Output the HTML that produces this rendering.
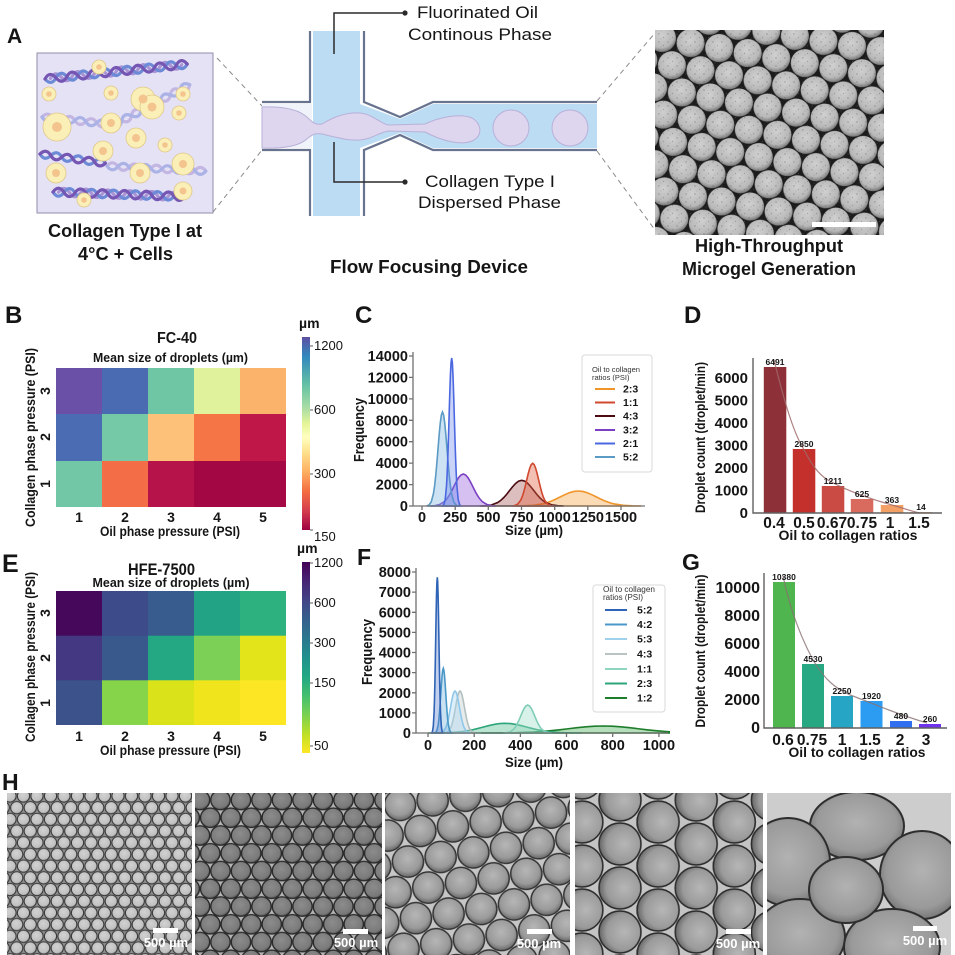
<!DOCTYPE html>
<html><head><meta charset="utf-8"><style>
html,body{margin:0;padding:0;background:#fff;}
svg{display:block;}
text{font-family:"Liberation Sans",Arial,sans-serif;fill:#151515;}
.b{font-weight:bold;}
</style></head><body>
<svg width="955" height="955" viewBox="0 0 955 955" xmlns="http://www.w3.org/2000/svg">
<defs>
<linearGradient id="spec" x1="0" y1="0" x2="0" y2="1">
<stop offset="0" stop-color="#5e4fa2"/><stop offset="0.1" stop-color="#3288bd"/><stop offset="0.25" stop-color="#66c2a5"/><stop offset="0.37" stop-color="#abdda4"/><stop offset="0.45" stop-color="#e6f598"/><stop offset="0.52" stop-color="#ffffbf"/><stop offset="0.6" stop-color="#fee08b"/><stop offset="0.7" stop-color="#fdae61"/><stop offset="0.8" stop-color="#f46d43"/><stop offset="0.9" stop-color="#d53e4f"/><stop offset="1" stop-color="#9e0142"/>
</linearGradient>
<linearGradient id="vir" x1="0" y1="0" x2="0" y2="1">
<stop offset="0" stop-color="#440154"/><stop offset="0.1" stop-color="#482475"/><stop offset="0.2" stop-color="#414487"/><stop offset="0.3" stop-color="#355f8d"/><stop offset="0.4" stop-color="#2a788e"/><stop offset="0.5" stop-color="#21918c"/><stop offset="0.6" stop-color="#22a884"/><stop offset="0.7" stop-color="#44bf70"/><stop offset="0.8" stop-color="#7ad151"/><stop offset="0.9" stop-color="#bddf26"/><stop offset="1" stop-color="#fde725"/>
</linearGradient>
<radialGradient id="gA" cx="0.45" cy="0.4" r="0.6"><stop offset="0" stop-color="#d0d0d0"/><stop offset="0.75" stop-color="#b8b8b8"/><stop offset="1" stop-color="#7a7a7a"/></radialGradient>
<radialGradient id="g1" cx="0.45" cy="0.4" r="0.6"><stop offset="0" stop-color="#d2d2d2"/><stop offset="0.8" stop-color="#c0c0c0"/><stop offset="1" stop-color="#8a8a8a"/></radialGradient>
<radialGradient id="g2" cx="0.45" cy="0.4" r="0.6"><stop offset="0" stop-color="#8c8c8c"/><stop offset="0.8" stop-color="#7a7a7a"/><stop offset="1" stop-color="#555"/></radialGradient>
<radialGradient id="g3" cx="0.5" cy="0.4" r="0.6"><stop offset="0" stop-color="#b6b6b6"/><stop offset="0.7" stop-color="#9a9a9a"/><stop offset="1" stop-color="#666"/></radialGradient>
<radialGradient id="g5" cx="0.5" cy="0.45" r="0.6"><stop offset="0" stop-color="#b2b2b2"/><stop offset="0.7" stop-color="#9a9a9a"/><stop offset="1" stop-color="#6a6a6a"/></radialGradient>
<pattern id="pA" width="29" height="50.23" patternUnits="userSpaceOnUse" patternTransform="translate(662,38) rotate(10)">
<rect width="29" height="50.23" fill="#1c1c1c"/>
<circle cx="0" cy="0" r="14" fill="url(#gA)"/><circle cx="29" cy="0" r="14" fill="url(#gA)"/><circle cx="14.5" cy="25.11" r="14" fill="url(#gA)"/><circle cx="0" cy="50.23" r="14" fill="url(#gA)"/><circle cx="29" cy="50.23" r="14" fill="url(#gA)"/>
</pattern>
<pattern id="spk" width="9" height="8" patternUnits="userSpaceOnUse">
<circle cx="2" cy="2" r="0.7" fill="#555"/><circle cx="6.5" cy="5.5" r="0.6" fill="#666"/><circle cx="4" cy="7" r="0.5" fill="#777"/>
</pattern>
<pattern id="p1" width="13.5" height="23.38" patternUnits="userSpaceOnUse" patternTransform="translate(10,796)">
<rect width="13.5" height="23.38" fill="#8e8e8e"/>
<g fill="url(#g1)" stroke="#3a3a3a" stroke-width="1.1">
<circle cx="0" cy="0" r="6.1"/><circle cx="13.5" cy="0" r="6.1"/><circle cx="6.75" cy="11.69" r="6.1"/><circle cx="0" cy="23.38" r="6.1"/><circle cx="13.5" cy="23.38" r="6.1"/></g>
</pattern>
<pattern id="p2" width="20.5" height="35.51" patternUnits="userSpaceOnUse" patternTransform="translate(200,800)">
<rect width="20.5" height="35.51" fill="#b4b4b4"/>
<g fill="url(#g2)" stroke="#2a2a2a" stroke-width="1.4">
<circle cx="0" cy="0" r="9.7"/><circle cx="20.5" cy="0" r="9.7"/><circle cx="10.25" cy="17.75" r="9.7"/><circle cx="0" cy="35.51" r="9.7"/><circle cx="20.5" cy="35.51" r="9.7"/></g>
</pattern>
<pattern id="p3" width="33" height="57.16" patternUnits="userSpaceOnUse" patternTransform="translate(400,805) rotate(-8)">
<rect width="33" height="57.16" fill="#c6c6c6"/>
<g fill="url(#g3)" stroke="#333" stroke-width="1.5">
<circle cx="0" cy="0" r="15.6"/><circle cx="33" cy="0" r="15.6"/><circle cx="16.5" cy="28.58" r="15.6"/><circle cx="0" cy="57.16" r="15.6"/><circle cx="33" cy="57.16" r="15.6"/></g>
</pattern>
<pattern id="p4" width="44" height="76.21" patternUnits="userSpaceOnUse" patternTransform="translate(620,800) rotate(90)">
<rect width="44" height="76.21" fill="#c4c4c4"/>
<g fill="url(#g3)" stroke="#2e2e2e" stroke-width="1.6">
<circle cx="0" cy="0" r="21"/><circle cx="44" cy="0" r="21"/><circle cx="22" cy="38.1" r="21"/><circle cx="0" cy="76.21" r="21"/><circle cx="44" cy="76.21" r="21"/></g>
</pattern>
<clipPath id="c5"><rect x="767" y="793" width="184" height="162"/></clipPath>
<clipPath id="cF"><rect x="416" y="560" width="254" height="174"/></clipPath>
</defs>

<!-- ============ PANEL A ============ -->
<text x="7" y="43" class="b" font-size="21">A</text>
<rect x="37" y="53" width="176" height="160" fill="#e5e2f5" stroke="#8f8ea8" stroke-width="1"/>
<g fill="none" stroke-width="3.2" stroke-linecap="round">
<g transform="translate(45,79) rotate(-6)">
<path stroke="#a995d6" d="M5.5,0 q5.5,-8 11,0 t11,0 t11,0 t11,0 t11,0 t11,0 t11,0 t11,0 t11,0 t11,0 t11,0 t11,0"/>
<path stroke="#6d8ad6" d="M0,0 q5.5,8 11,0 t11,0 t11,0 t11,0 t11,0 t11,0 t11,0 t11,0 t11,0 t11,0 t11,0 t11,0 t11,0"/>
<path stroke="#7556b3" d="M0,0 q5.5,-8 11,0 t11,0 t11,0 t11,0 t11,0 t11,0 t11,0 t11,0 t11,0 t11,0 t11,0 t11,0 t11,0"/>
</g>
<g transform="translate(42,117) rotate(6)">
<path stroke="#c3b6e2" d="M0,0 q5.5,-7 11,0 t11,0 t11,0 t11,0 t11,0 t11,0 t11,0"/>
<path stroke="#aab2e6" d="M0,0 q5.5,7 11,0 t11,0 t11,0 t11,0 t11,0 t11,0 t11,0"/>
</g>
<g transform="translate(112,126) rotate(-28)">
<path stroke="#c3b6e2" d="M0,0 q5.5,-7 11,0 t11,0 t11,0 t11,0 t11,0 t11,0 t11,0 t11,0"/>
<path stroke="#aab2e6" d="M0,0 q5.5,7 11,0 t11,0 t11,0 t11,0 t11,0 t11,0 t11,0 t11,0"/>
</g>
<g transform="translate(40,154) rotate(8)">
<path stroke="#6d8ad6" d="M0,0 q5.5,7 11,0 t11,0 t11,0 t11,0 t11,0 t11,0"/>
<path stroke="#7556b3" d="M0,0 q5.5,-7 11,0 t11,0 t11,0 t11,0 t11,0 t11,0"/>
</g>
<g transform="translate(107,166) rotate(3)">
<path stroke="#c3b6e2" d="M0,0 q5.5,-7 11,0 t11,0 t11,0 t11,0 t11,0 t11,0 t11,0 t11,0 t11,0"/>
<path stroke="#aab2e6" d="M0,0 q5.5,7 11,0 t11,0 t11,0 t11,0 t11,0 t11,0 t11,0 t11,0 t11,0"/>
</g>
<g transform="translate(53,192) rotate(2)">
<path stroke="#a995d6" d="M5.5,0 q5.5,-8 11,0 t11,0 t11,0 t11,0 t11,0 t11,0 t11,0 t11,0 t11,0 t11,0 t11,0"/>
<path stroke="#6d8ad6" d="M0,0 q5.5,8 11,0 t11,0 t11,0 t11,0 t11,0 t11,0 t11,0 t11,0 t11,0 t11,0 t11,0 t11,0"/>
<path stroke="#7556b3" d="M0,0 q5.5,-8 11,0 t11,0 t11,0 t11,0 t11,0 t11,0 t11,0 t11,0 t11,0 t11,0 t11,0 t11,0"/>
</g>
</g>
<g fill="#fbefb8" stroke="#e0c888" stroke-width="0.8">
<circle cx="99" cy="67" r="7"/><circle cx="49" cy="94" r="7"/><circle cx="111" cy="93" r="7"/><circle cx="143" cy="99" r="12"/><circle cx="152" cy="107" r="12"/><circle cx="183" cy="94" r="7"/><circle cx="179" cy="113" r="7"/><circle cx="57" cy="127" r="14"/><circle cx="111" cy="123" r="10"/><circle cx="136" cy="138" r="10"/><circle cx="165" cy="145" r="7"/><circle cx="103" cy="151" r="10"/><circle cx="56" cy="173" r="10"/><circle cx="140" cy="173" r="10"/><circle cx="183" cy="164" r="11"/><circle cx="183" cy="191" r="9"/><circle cx="84" cy="200" r="7"/>
</g>
<g fill="#f4c48e">
<circle cx="99" cy="67" r="2.8"/><circle cx="49" cy="94" r="2.8"/><circle cx="111" cy="93" r="2.8"/><circle cx="143" cy="99" r="4.5"/><circle cx="152" cy="107" r="4.5"/><circle cx="183" cy="94" r="2.8"/><circle cx="179" cy="113" r="2.8"/><circle cx="57" cy="127" r="5"/><circle cx="111" cy="123" r="4"/><circle cx="136" cy="138" r="4"/><circle cx="165" cy="145" r="2.8"/><circle cx="103" cy="151" r="4"/><circle cx="56" cy="173" r="4"/><circle cx="140" cy="173" r="4"/><circle cx="183" cy="164" r="4"/><circle cx="183" cy="191" r="3.5"/><circle cx="84" cy="200" r="2.8"/>
</g>
<g stroke="#8a8a8a" stroke-width="1" stroke-dasharray="5,4" fill="none">
<line x1="217" y1="58" x2="262" y2="106"/><line x1="213" y1="212" x2="262" y2="150"/>
<line x1="597" y1="101" x2="655" y2="33"/><line x1="597" y1="151" x2="655" y2="230"/>
</g>
<text x="125" y="237" class="b" font-size="18" text-anchor="middle" textLength="154" lengthAdjust="spacingAndGlyphs">Collagen Type I at</text>
<text x="125.5" y="260" class="b" font-size="18" text-anchor="middle" textLength="95" lengthAdjust="spacingAndGlyphs">4°C + Cells</text>

<!-- device -->
<rect x="262" y="104" width="50" height="44" fill="#f0f3fa"/>
<rect x="313" y="31" width="47" height="185" fill="#bcdcf4"/>
<path d="M360,104 L400,119 L433,104 H597 V148 H433 L400,133 L360,148 Z" fill="#bcdcf4"/>
<path d="M262,107 C285,106 300,110 308,118 C313,123 316,125 322,124 C335,116 348,112 360,113 C372,114 378,122 388,125 L425,124 C440,117 460,113 472,118 C482,124 483,136 472,141 C460,146 440,140 425,132 L388,131 C378,133 372,139 360,140 C348,141 335,137 322,134 C316,133 313,134 308,138 C300,146 285,149 262,148 Z" fill="#ddd6ee" stroke="#b9b0d8" stroke-width="1"/>
<circle cx="511" cy="128" r="18" fill="#ddd6ee" stroke="#b9b0d8" stroke-width="1"/>
<circle cx="570" cy="128" r="18" fill="#ddd6ee" stroke="#b9b0d8" stroke-width="1"/>
<g fill="none" stroke="#67738f" stroke-width="2.2">
<path d="M262,102 H310 V31"/><path d="M262,150 H310 V216"/>
<path d="M364,31 V102 L400,117 L433,102 H597"/><path d="M364,216 V150 L400,135 L433,150 H597"/>
</g>
<g fill="none" stroke="#2a2a2a" stroke-width="1.5">
<path d="M334,54 V13 H405"/><path d="M334,142 V182 H405"/>
</g>
<circle cx="405" cy="13" r="2.6" fill="#2a2a2a"/><circle cx="405" cy="182" r="2.6" fill="#2a2a2a"/>
<text x="417" y="18" font-size="17" textLength="121" lengthAdjust="spacingAndGlyphs">Fluorinated Oil</text>
<text x="408" y="40" font-size="17" textLength="144" lengthAdjust="spacingAndGlyphs">Continous Phase</text>
<text x="425" y="187" font-size="17" textLength="130" lengthAdjust="spacingAndGlyphs">Collagen Type I</text>
<text x="418" y="208" font-size="17" textLength="143" lengthAdjust="spacingAndGlyphs">Dispersed Phase</text>
<text x="429" y="273" class="b" font-size="18.5" text-anchor="middle" textLength="198" lengthAdjust="spacingAndGlyphs">Flow Focusing Device</text>

<!-- right microgel image -->
<rect x="655" y="30" width="229" height="205" fill="url(#pA)"/>
<rect x="655" y="30" width="229" height="205" fill="url(#spk)" opacity="0.45"/>
<rect x="812" y="222" width="64" height="5" fill="#fff"/>
<text x="769" y="252" class="b" font-size="18" text-anchor="middle" textLength="148" lengthAdjust="spacingAndGlyphs">High-Throughput</text>
<text x="769" y="275" class="b" font-size="18" text-anchor="middle" textLength="174" lengthAdjust="spacingAndGlyphs">Microgel Generation</text>

<!-- ============ PANEL B ============ -->
<text x="5" y="323" class="b" font-size="24">B</text>
<text x="177" y="343" class="b" font-size="16" text-anchor="middle" textLength="40" lengthAdjust="spacingAndGlyphs">FC-40</text>
<text x="170.5" y="362" class="b" font-size="13" text-anchor="middle" textLength="155" lengthAdjust="spacingAndGlyphs">Mean size of droplets (µm)</text>
<rect x="56" y="368" width="46" height="47" fill="#6a50a6"/><rect x="102" y="368" width="46" height="47" fill="#4a6ab1"/><rect x="148" y="368" width="46" height="47" fill="#6fc6a5"/><rect x="194" y="368" width="46" height="47" fill="#e1f29d"/><rect x="240" y="368" width="46" height="47" fill="#fbb36b"/>
<rect x="56" y="414" width="46" height="47" fill="#4b6bb2"/><rect x="102" y="414" width="46" height="47" fill="#75c9a6"/><rect x="148" y="414" width="46" height="47" fill="#fdc17a"/><rect x="194" y="414" width="46" height="47" fill="#f57547"/><rect x="240" y="414" width="46" height="47" fill="#be1748"/>
<rect x="56" y="461" width="46" height="46" fill="#72c7a6"/><rect x="102" y="461" width="46" height="46" fill="#f36d46"/><rect x="148" y="461" width="46" height="46" fill="#b6134a"/><rect x="194" y="461" width="46" height="46" fill="#a30845"/><rect x="240" y="461" width="46" height="46" fill="#a40845"/>
<g class="b" font-size="14" text-anchor="middle">
<text transform="translate(50,391) rotate(-90)">3</text><text transform="translate(50,437) rotate(-90)">2</text><text transform="translate(50,484) rotate(-90)">1</text>
<text x="79" y="522">1</text><text x="125" y="522">2</text><text x="171" y="522">3</text><text x="217" y="522">4</text><text x="263" y="522">5</text>
</g>
<text transform="translate(35,437.5) rotate(-90)" class="b" font-size="14" text-anchor="middle" textLength="179" lengthAdjust="spacingAndGlyphs">Collagen phase pressure (PSI)</text>
<text x="170" y="536" class="b" font-size="13.5" text-anchor="middle" textLength="140" lengthAdjust="spacingAndGlyphs">Oil phase pressure (PSI)</text>
<rect x="302" y="337" width="8" height="193" fill="url(#spec)"/>
<text x="299" y="328" class="b" font-size="14">µm</text>
<g stroke="#333" stroke-width="0.8"><line x1="310" y1="346" x2="313" y2="346"/><line x1="310" y1="410" x2="313" y2="410"/><line x1="310" y1="474" x2="313" y2="474"/><line x1="310" y1="530" x2="313" y2="530"/></g>
<g font-size="13"><text x="314" y="350">1200</text><text x="314" y="414">600</text><text x="314" y="478">300</text><text x="314" y="541">150</text></g>

<!-- ============ PANEL E ============ -->
<text x="2" y="572" class="b" font-size="25">E</text>
<text x="161.5" y="575" class="b" font-size="17" text-anchor="middle" textLength="67" lengthAdjust="spacingAndGlyphs">HFE-7500</text>
<text x="171" y="587" class="b" font-size="13" text-anchor="middle" textLength="157" lengthAdjust="spacingAndGlyphs">Mean size of droplets (µm)</text>
<rect x="56" y="591" width="46" height="45" fill="#45085b"/><rect x="102" y="591" width="46" height="45" fill="#3e4b8a"/><rect x="148" y="591" width="46" height="45" fill="#375c8d"/><rect x="194" y="591" width="46" height="45" fill="#22a385"/><rect x="240" y="591" width="46" height="45" fill="#2db17e"/>
<rect x="56" y="635.7" width="46" height="45" fill="#453882"/><rect x="102" y="635.7" width="46" height="45" fill="#39598c"/><rect x="148" y="635.7" width="46" height="45" fill="#24a884"/><rect x="194" y="635.7" width="46" height="45" fill="#7cd055"/><rect x="240" y="635.7" width="46" height="45" fill="#e4e41a"/>
<rect x="56" y="680.3" width="46" height="44.7" fill="#3b528b"/><rect x="102" y="680.3" width="46" height="44.7" fill="#85d44a"/><rect x="148" y="680.3" width="46" height="44.7" fill="#dae319"/><rect x="194" y="680.3" width="46" height="44.7" fill="#f0e51c"/><rect x="240" y="680.3" width="46" height="44.7" fill="#fde725"/>
<g class="b" font-size="14" text-anchor="middle">
<text transform="translate(50,613) rotate(-90)">3</text><text transform="translate(50,658) rotate(-90)">2</text><text transform="translate(50,703) rotate(-90)">1</text>
<text x="79" y="741">1</text><text x="125" y="741">2</text><text x="171" y="741">3</text><text x="217" y="741">4</text><text x="263" y="741">5</text>
</g>
<text transform="translate(35,657) rotate(-90)" class="b" font-size="14" text-anchor="middle" textLength="170" lengthAdjust="spacingAndGlyphs">Collagen phase pressure (PSI)</text>
<text x="170.5" y="755" class="b" font-size="13.5" text-anchor="middle" textLength="141" lengthAdjust="spacingAndGlyphs">Oil phase pressure (PSI)</text>
<rect x="302" y="562" width="8" height="191" fill="url(#vir)"/>
<text x="297" y="553" class="b" font-size="14">µm</text>
<g stroke="#333" stroke-width="0.8"><line x1="310" y1="563" x2="313" y2="563"/><line x1="310" y1="603" x2="313" y2="603"/><line x1="310" y1="643" x2="313" y2="643"/><line x1="310" y1="683" x2="313" y2="683"/><line x1="310" y1="746" x2="313" y2="746"/></g>
<g font-size="13"><text x="314" y="567">1200</text><text x="314" y="607">600</text><text x="314" y="647">300</text><text x="314" y="687">150</text><text x="314" y="750">50</text></g>

<!-- ============ PANEL C ============ -->
<text x="355" y="323" class="b" font-size="24">C</text>
<g stroke-width="1.6">
<path transform="translate(578.3,506) scale(18,-15)" vector-effect="non-scaling-stroke" d="M-3.5,0 L-3,.011 -2.5,.044 -2,.135 -1.75,.217 -1.5,.325 -1.25,.458 -1,.607 -.75,.755 -.5,.882 -.25,.969 0,1 .25,.969 .5,.882 .75,.755 1,.607 1.25,.458 1.5,.325 1.75,.217 2,.135 2.5,.044 3,.011 3.5,0Z" fill="rgba(245,165,70,0.4)" stroke="#f0952a"/>
<path transform="translate(521.7,506) scale(12,-25.7)" vector-effect="non-scaling-stroke" d="M-3.5,0 L-3,.011 -2.5,.044 -2,.135 -1.75,.217 -1.5,.325 -1.25,.458 -1,.607 -.75,.755 -.5,.882 -.25,.969 0,1 .25,.969 .5,.882 .75,.755 1,.607 1.25,.458 1.5,.325 1.75,.217 2,.135 2.5,.044 3,.011 3.5,0Z" fill="rgba(140,40,40,0.3)" stroke="#4a0a10"/>
<path transform="translate(532.7,506) scale(6,-42.7)" vector-effect="non-scaling-stroke" d="M-3.5,0 L-3,.011 -2.5,.044 -2,.135 -1.75,.217 -1.5,.325 -1.25,.458 -1,.607 -.75,.755 -.5,.882 -.25,.969 0,1 .25,.969 .5,.882 .75,.755 1,.607 1.25,.458 1.5,.325 1.75,.217 2,.135 2.5,.044 3,.011 3.5,0Z" fill="rgba(225,95,65,0.4)" stroke="#d0482e"/>
<path transform="translate(463.3,506) scale(9.5,-32)" vector-effect="non-scaling-stroke" d="M-3.5,0 L-3,.011 -2.5,.044 -2,.135 -1.75,.217 -1.5,.325 -1.25,.458 -1,.607 -.75,.755 -.5,.882 -.25,.969 0,1 .25,.969 .5,.882 .75,.755 1,.607 1.25,.458 1.5,.325 1.75,.217 2,.135 2.5,.044 3,.011 3.5,0Z" fill="rgba(165,115,225,0.45)" stroke="#7b3fc4"/>
<path transform="translate(442.5,506) scale(4.5,-94)" vector-effect="non-scaling-stroke" d="M-3.5,0 L-3,.011 -2.5,.044 -2,.135 -1.75,.217 -1.5,.325 -1.25,.458 -1,.607 -.75,.755 -.5,.882 -.25,.969 0,1 .25,.969 .5,.882 .75,.755 1,.607 1.25,.458 1.5,.325 1.75,.217 2,.135 2.5,.044 3,.011 3.5,0Z" fill="rgba(130,185,225,0.4)" stroke="#5a9ac4"/>
<path transform="translate(451.7,506) scale(2.6,-148)" vector-effect="non-scaling-stroke" d="M-3.5,0 L-3,.011 -2.5,.044 -2,.135 -1.75,.217 -1.5,.325 -1.25,.458 -1,.607 -.75,.755 -.5,.882 -.25,.969 0,1 .25,.969 .5,.882 .75,.755 1,.607 1.25,.458 1.5,.325 1.75,.217 2,.135 2.5,.044 3,.011 3.5,0Z" fill="rgba(100,130,235,0.35)" stroke="#4b68e0"/>
</g>
<g stroke="#707070" stroke-width="1.3" fill="none">
<path d="M413,352 V506 H645"/>
<path d="M409,356 H413 M409,377.4 H413 M409,398.9 H413 M409,420.3 H413 M409,441.7 H413 M409,463.1 H413 M409,484.6 H413 M409,506 H413"/>
<path d="M422,506 V510 M455.2,506 V510 M488.3,506 V510 M521.5,506 V510 M554.7,506 V510 M587.8,506 V510 M621,506 V510"/>
</g>
<g class="b" font-size="14.5" text-anchor="end">
<text x="408" y="361">14000</text><text x="408" y="382.4">12000</text><text x="408" y="403.9">10000</text><text x="408" y="425.3">8000</text><text x="408" y="446.7">6000</text><text x="408" y="468.1">4000</text><text x="408" y="489.6">2000</text><text x="408" y="511">0</text>
</g>
<g class="b" font-size="14.5" text-anchor="middle">
<text x="422" y="522">0</text><text x="455.2" y="522">250</text><text x="488.3" y="522">500</text><text x="521.5" y="522">750</text><text x="554.7" y="522">1000</text><text x="587.8" y="522">1250</text><text x="621" y="522">1500</text>
</g>
<text x="534" y="535" class="b" font-size="14" text-anchor="middle" textLength="58" lengthAdjust="spacingAndGlyphs">Size (µm)</text>
<text transform="translate(364,430) rotate(-90)" class="b" font-size="15" text-anchor="middle" textLength="64" lengthAdjust="spacingAndGlyphs">Frequency</text>
<rect x="582" y="355" width="70" height="117" rx="3" fill="#fff" stroke="#d9d9d9" stroke-width="1"/>
<text x="592" y="372" font-size="7.5" textLength="48" lengthAdjust="spacingAndGlyphs" style="fill:#333">Oil to collagen</text>
<text x="592" y="380" font-size="7.5" style="fill:#333">ratios (PSI)</text>
<g stroke-width="2">
<line x1="595" y1="389" x2="615" y2="389" stroke="#f0952a"/><line x1="595" y1="402.5" x2="615" y2="402.5" stroke="#d0482e"/><line x1="595" y1="416" x2="615" y2="416" stroke="#4a0a10"/><line x1="595" y1="430" x2="615" y2="430" stroke="#7b3fc4"/><line x1="595" y1="443.5" x2="615" y2="443.5" stroke="#4b68e0"/><line x1="595" y1="457" x2="615" y2="457" stroke="#5a9ac4"/>
</g>
<g class="b" font-size="10.5">
<text x="623" y="392.5">2:3</text><text x="623" y="406">1:1</text><text x="623" y="419.5">4:3</text><text x="623" y="433.5">3:2</text><text x="623" y="447">2:1</text><text x="623" y="460.5">5:2</text>
</g>

<!-- ============ PANEL F ============ -->
<text x="357" y="565" class="b" font-size="23">F</text>
<g clip-path="url(#cF)" stroke-width="1.6">
<path transform="translate(603.3,733) scale(35,-7)" vector-effect="non-scaling-stroke" d="M-3.5,0 L-3,.011 -2.5,.044 -2,.135 -1.75,.217 -1.5,.325 -1.25,.458 -1,.607 -.75,.755 -.5,.882 -.25,.969 0,1 .25,.969 .5,.882 .75,.755 1,.607 1.25,.458 1.5,.325 1.75,.217 2,.135 2.5,.044 3,.011 3.5,0Z" fill="rgba(70,175,85,0.4)" stroke="#1e7d2a"/>
<path transform="translate(505,733) scale(22,-9.7)" vector-effect="non-scaling-stroke" d="M-3.5,0 L-3,.011 -2.5,.044 -2,.135 -1.75,.217 -1.5,.325 -1.25,.458 -1,.607 -.75,.755 -.5,.882 -.25,.969 0,1 .25,.969 .5,.882 .75,.755 1,.607 1.25,.458 1.5,.325 1.75,.217 2,.135 2.5,.044 3,.011 3.5,0Z" fill="rgba(60,180,130,0.35)" stroke="#2ca57a"/>
<path transform="translate(527.7,733) scale(7,-28)" vector-effect="non-scaling-stroke" d="M-3.5,0 L-3,.011 -2.5,.044 -2,.135 -1.75,.217 -1.5,.325 -1.25,.458 -1,.607 -.75,.755 -.5,.882 -.25,.969 0,1 .25,.969 .5,.882 .75,.755 1,.607 1.25,.458 1.5,.325 1.75,.217 2,.135 2.5,.044 3,.011 3.5,0Z" fill="rgba(160,222,200,0.4)" stroke="#7fcdb6"/>
<path transform="translate(460,733) scale(4.5,-42)" vector-effect="non-scaling-stroke" d="M-3.5,0 L-3,.011 -2.5,.044 -2,.135 -1.75,.217 -1.5,.325 -1.25,.458 -1,.607 -.75,.755 -.5,.882 -.25,.969 0,1 .25,.969 .5,.882 .75,.755 1,.607 1.25,.458 1.5,.325 1.75,.217 2,.135 2.5,.044 3,.011 3.5,0Z" fill="rgba(195,205,205,0.4)" stroke="#b3c0c0"/>
<path transform="translate(455,733) scale(4.5,-42)" vector-effect="non-scaling-stroke" d="M-3.5,0 L-3,.011 -2.5,.044 -2,.135 -1.75,.217 -1.5,.325 -1.25,.458 -1,.607 -.75,.755 -.5,.882 -.25,.969 0,1 .25,.969 .5,.882 .75,.755 1,.607 1.25,.458 1.5,.325 1.75,.217 2,.135 2.5,.044 3,.011 3.5,0Z" fill="rgba(170,215,240,0.4)" stroke="#8fc8ea"/>
<path transform="translate(443.3,733) scale(2.5,-64.7)" vector-effect="non-scaling-stroke" d="M-3.5,0 L-3,.011 -2.5,.044 -2,.135 -1.75,.217 -1.5,.325 -1.25,.458 -1,.607 -.75,.755 -.5,.882 -.25,.969 0,1 .25,.969 .5,.882 .75,.755 1,.607 1.25,.458 1.5,.325 1.75,.217 2,.135 2.5,.044 3,.011 3.5,0Z" fill="rgba(100,170,215,0.35)" stroke="#4a98c8"/>
<path transform="translate(437.3,733) scale(1.6,-155.7)" vector-effect="non-scaling-stroke" d="M-3.5,0 L-3,.011 -2.5,.044 -2,.135 -1.75,.217 -1.5,.325 -1.25,.458 -1,.607 -.75,.755 -.5,.882 -.25,.969 0,1 .25,.969 .5,.882 .75,.755 1,.607 1.25,.458 1.5,.325 1.75,.217 2,.135 2.5,.044 3,.011 3.5,0Z" fill="rgba(80,120,205,0.35)" stroke="#2f63b5"/>
</g>
<g stroke="#707070" stroke-width="1.3" fill="none">
<path d="M416,568 V733 H668"/>
<path d="M412,572 H416 M412,592.1 H416 M412,612.3 H416 M412,632.4 H416 M412,652.5 H416 M412,672.6 H416 M412,692.8 H416 M412,712.9 H416 M412,733 H416"/>
<path d="M428,733 V737 M474.2,733 V737 M520.4,733 V737 M566.5,733 V737 M612.7,733 V737 M658.9,733 V737"/>
</g>
<g class="b" font-size="14.5" text-anchor="end">
<text x="411" y="577">8000</text><text x="411" y="597.1">7000</text><text x="411" y="617.3">6000</text><text x="411" y="637.4">5000</text><text x="411" y="657.5">4000</text><text x="411" y="677.6">3000</text><text x="411" y="697.8">2000</text><text x="411" y="717.9">1000</text><text x="411" y="738">0</text>
</g>
<g class="b" font-size="14.5" text-anchor="middle">
<text x="428" y="750">0</text><text x="474.2" y="750">200</text><text x="520.4" y="750">400</text><text x="566.5" y="750">600</text><text x="612.7" y="750">800</text><text x="658.9" y="750">1000</text>
</g>
<text x="534" y="767" class="b" font-size="14" text-anchor="middle" textLength="58" lengthAdjust="spacingAndGlyphs">Size (µm)</text>
<text transform="translate(372,652) rotate(-90)" class="b" font-size="15" text-anchor="middle" textLength="66" lengthAdjust="spacingAndGlyphs">Frequency</text>
<rect x="593" y="585" width="72" height="127" rx="3" fill="#fff" stroke="#d9d9d9" stroke-width="1"/>
<text x="603" y="592" font-size="8" textLength="52" lengthAdjust="spacingAndGlyphs" style="fill:#333">Oil to collagen</text>
<text x="603" y="600" font-size="8" style="fill:#333">ratios (PSI)</text>
<g stroke-width="2">
<line x1="605" y1="610" x2="627" y2="610" stroke="#2f63b5"/><line x1="605" y1="624.5" x2="627" y2="624.5" stroke="#4a98c8"/><line x1="605" y1="639" x2="627" y2="639" stroke="#9ed0ec"/><line x1="605" y1="654" x2="627" y2="654" stroke="#b8c4c4"/><line x1="605" y1="669" x2="627" y2="669" stroke="#8fd4c0"/><line x1="605" y1="683.5" x2="627" y2="683.5" stroke="#2ca57a"/><line x1="605" y1="698" x2="627" y2="698" stroke="#1e7d2a"/>
</g>
<g class="b" font-size="10.5">
<text x="637" y="613.5">5:2</text><text x="637" y="628">4:2</text><text x="637" y="642.5">5:3</text><text x="637" y="657.5">4:3</text><text x="637" y="672.5">1:1</text><text x="637" y="687">2:3</text><text x="637" y="701.5">1:2</text>
</g>

<!-- ============ PANEL D ============ -->
<text x="684" y="323" class="b" font-size="24">D</text>
<rect x="763.8" y="367" width="22.5" height="146" fill="#8e3038"/>
<rect x="792.8" y="449" width="22.5" height="64" fill="#c4302b"/>
<rect x="821.8" y="486" width="22.5" height="27" fill="#c94b43"/>
<rect x="850.8" y="499" width="22.5" height="14" fill="#d96a5e"/>
<rect x="880.8" y="505" width="22.5" height="8" fill="#f2a065"/>
<rect x="909.8" y="512" width="22.5" height="1" fill="#f5b380"/>
<path d="M774,360 C782,392 792,430 803,448 C812,465 818,474 828,480 C845,490 865,497 885,503 C900,507 910,511 920,513" fill="none" stroke="#a06a6a" stroke-width="1.2" opacity="0.85"/>
<g class="b" font-size="8.5" text-anchor="middle" style="fill:#333">
<text x="775" y="365">6491</text><text x="804" y="447">2850</text><text x="833" y="484">1211</text><text x="862" y="497">625</text><text x="892" y="503">363</text><text x="921" y="510">14</text>
</g>
<g stroke="#606060" stroke-width="1.4" fill="none"><path d="M753,358 V513 H942"/></g>
<g class="b" font-size="15" text-anchor="end">
<text x="748" y="383">6000</text><text x="748" y="405.5">5000</text><text x="748" y="428">4000</text><text x="748" y="450.5">3000</text><text x="748" y="473">2000</text><text x="748" y="495.5">1000</text><text x="748" y="518">0</text>
</g>
<g class="b" font-size="15.5" text-anchor="middle">
<text x="774" y="528">0.4</text><text x="804" y="528">0.5</text><text x="832" y="528">0.67</text><text x="862" y="528">0.75</text><text x="890" y="528">1</text><text x="919" y="528">1.5</text>
</g>
<text x="848" y="540" class="b" font-size="14" text-anchor="middle" textLength="139" lengthAdjust="spacingAndGlyphs">Oil to collagen ratios</text>
<text transform="translate(705,437.5) rotate(-90)" class="b" font-size="14" text-anchor="middle" textLength="151" lengthAdjust="spacingAndGlyphs">Droplet count (droplet/min)</text>

<!-- ============ PANEL G ============ -->
<text x="682" y="570" class="b" font-size="23">G</text>
<rect x="773" y="582" width="22" height="146" fill="#4fb54e"/>
<rect x="802" y="664" width="22" height="64" fill="#27a882"/>
<rect x="831" y="696" width="22" height="32" fill="#26a6c4"/>
<rect x="860.5" y="701" width="22" height="27" fill="#2b9cf2"/>
<rect x="890" y="721" width="22" height="7" fill="#2f6ff0"/>
<rect x="919" y="724" width="22" height="4" fill="#6f33f0"/>
<path d="M783,576 C788,600 797,630 813,660 C825,680 835,688 850,695 C870,702 890,712 927,723" fill="none" stroke="#8a7070" stroke-width="1.2" opacity="0.8"/>
<g class="b" font-size="8.5" text-anchor="middle" style="fill:#333">
<text x="784" y="580">10380</text><text x="813" y="662">4530</text><text x="842" y="694">2250</text><text x="871.5" y="699">1920</text><text x="901" y="719">480</text><text x="930" y="722">260</text>
</g>
<g stroke="#606060" stroke-width="1.4" fill="none"><path d="M764,573 V728 H947"/></g>
<g class="b" font-size="16" text-anchor="end">
<text x="760" y="593">10000</text><text x="760" y="621">8000</text><text x="760" y="649">6000</text><text x="760" y="677">4000</text><text x="760" y="705">2000</text><text x="760" y="733">0</text>
</g>
<g class="b" font-size="15.5" text-anchor="middle">
<text x="783" y="745">0.6</text><text x="812" y="745">0.75</text><text x="842" y="745">1</text><text x="870" y="745">1.5</text><text x="900" y="745">2</text><text x="926" y="745">3</text>
</g>
<text x="857" y="757" class="b" font-size="14" text-anchor="middle" textLength="137" lengthAdjust="spacingAndGlyphs">Oil to collagen ratios</text>
<text transform="translate(705,651) rotate(-90)" class="b" font-size="14" text-anchor="middle" textLength="153" lengthAdjust="spacingAndGlyphs">Droplet count (droplet/min)</text>

<!-- ============ PANEL H ============ -->
<text x="2" y="790" class="b" font-size="23">H</text>
<rect x="7" y="793" width="185" height="162" fill="url(#p1)"/>
<rect x="195" y="793" width="187" height="162" fill="url(#p2)"/>
<rect x="385" y="793" width="185" height="162" fill="url(#p3)"/>
<rect x="575" y="793" width="188" height="162" fill="url(#p4)"/>
<rect x="767" y="793" width="184" height="162" fill="#cdcdcd"/>
<g clip-path="url(#c5)" fill="url(#g5)" stroke="#2e2e2e" stroke-width="2">
<ellipse cx="857" cy="826" rx="47" ry="34"/>
<ellipse cx="788" cy="862" rx="42" ry="44"/>
<ellipse cx="922" cy="875" rx="42" ry="44"/>
<ellipse cx="800" cy="937" rx="45" ry="38"/>
<ellipse cx="892" cy="947" rx="48" ry="38"/>
<ellipse cx="846" cy="890" rx="37" ry="33"/>
</g>
<g fill="#fff">
<rect x="153" y="928" width="25" height="5"/><rect x="343" y="929" width="25" height="5"/><rect x="527" y="929" width="25" height="5"/><rect x="726" y="929" width="25" height="5"/><rect x="913" y="926" width="24" height="5"/>
</g>
<g class="b" font-size="13" text-anchor="middle">
<text x="166" y="947" style="fill:#fff">500 µm</text><text x="356" y="947" style="fill:#fff">500 µm</text><text x="539" y="948" style="fill:#fff">500 µm</text><text x="738" y="948" style="fill:#fff">500 µm</text><text x="925" y="945" style="fill:#fff">500 µm</text>
</g>
</svg>
</body></html>
